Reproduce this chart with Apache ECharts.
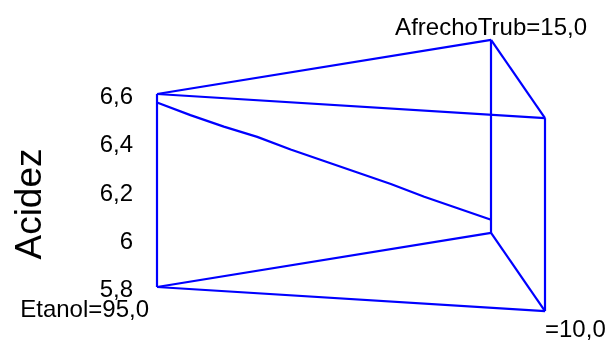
<!DOCTYPE html>
<html>
<head>
<meta charset="utf-8">
<script src="https://cdn.jsdelivr.net/npm/echarts@6/dist/echarts.min.js"></script>
<style>
  html, body { margin: 0; padding: 0; background: #fff; }
  #chart { width: 611px; height: 343px; }
</style>
</head>
<body>
<div id="chart"></div>
<script>
// Mixture components at the three corners of the simplex and their labels
const components = ['Etanol', 'AfrechoTrub', ''];
const componentLevels = ['95,0', '15,0', '10,0'];

// Response axis
const responseName = 'Acidez';
const acidezMin = 5.8;
const acidezMax = 6.6;
const acidezStep = 0.2;

// Trace of the response along the Etanol -> AfrechoTrub edge
const traceAfrecho = [0.0, 0.1, 0.2, 0.3, 0.4, 0.5, 0.6, 0.7, 0.8, 0.9, 1.0];
const traceAcidez  = [6.565, 6.49, 6.42, 6.355, 6.28, 6.21, 6.14, 6.07, 5.995, 5.925, 5.855];

// Oblique view of the prism: horizontal place of each corner (x axis units)
// and how far its floor is lifted (in response units).
const view = {
  x:    [0, 0.861, 1.0],
  lift: [0, 0.224, -0.10]
};

// Project a mixture (fractions of each component) and a response value
function project(frac, acid) {
  let x = 0, y = acid;
  for (let i = 0; i < 3; i++) {
    x += frac[i] * view.x[i];
    y += frac[i] * view.lift[i];
  }
  return [x, y];
}
const corner = i => [0, 1, 2].map(k => (k === i ? 1 : 0));

// Prism edges: floor and roof triangles plus the three uprights
const edges = [];
[acidezMin, acidezMax].forEach(level => {
  [[0, 1], [1, 2], [2, 0]].forEach(([a, b]) => {
    edges.push({ coords: [project(corner(a), level), project(corner(b), level)] });
  });
});
[0, 1, 2].forEach(i => {
  edges.push({ coords: [project(corner(i), acidezMin), project(corner(i), acidezMax)] });
});

// Trace points
const traceData = traceAfrecho.map((b, i) => project([1 - b, b, 0], traceAcidez[i]));

const font = 'Liberation Sans, Arial, sans-serif';
const blue = '#0000ff';

// Corner labels
const cornerLabels = [
  { value: project(corner(0), acidezMin),
    label: { position: 'bottom', align: 'right', distance: 11, offset: [-8, 0] } },
  { value: project(corner(1), acidezMax),
    label: { position: 'top', align: 'center', distance: 0 } },
  { value: project(corner(2), acidezMin),
    label: { position: 'bottom', align: 'left', distance: 7, offset: [0, 0] } }
].map((d, i) => {
  d.label.formatter = components[i] + '=' + componentLevels[i];
  return d;
});

const chart = echarts.init(document.getElementById('chart'), null, { renderer: 'canvas' });
chart.setOption({
  animation: false,
  backgroundColor: '#ffffff',
  grid: { left: 157, right: 66, top: 94, bottom: 56 },
  xAxis: {
    type: 'value', min: 0, max: 1, show: false
  },
  yAxis: {
    type: 'value', min: acidezMin, max: acidezMax, interval: acidezStep,
    axisLine: { show: false },
    axisTick: { show: false },
    splitLine: { show: false },
    axisLabel: {
      margin: 24,
      color: '#000',
      fontFamily: font,
      fontSize: 24,
      formatter: v => '{t|' + String(+v.toFixed(1)).replace('.', ',') + '}',
      rich: {
        t: { color: '#000', fontFamily: font, fontSize: 24, padding: [7, 0, 0, 0] }
      }
    }
  },
  graphic: [{
    type: 'text',
    x: 31, y: 204,
    rotation: Math.PI / 2,
    style: {
      text: responseName,
      fill: '#000',
      font: '37px ' + font,
      textAlign: 'center',
      textVerticalAlign: 'middle'
    }
  }],
  series: [
    {
      type: 'lines',
      coordinateSystem: 'cartesian2d',
      clip: false,
      silent: true,
      lineStyle: { color: blue, width: 2.2, opacity: 1 },
      data: edges
    },
    {
      type: 'line',
      clip: false,
      symbol: 'none',
      lineStyle: { color: blue, width: 2.2 },
      data: traceData
    },
    {
      type: 'scatter',
      clip: false,
      symbolSize: 0,
      itemStyle: { opacity: 1 },
      label: {
        show: true,
        color: '#000000',
        fontFamily: font,
        fontSize: 24
      },
      data: cornerLabels
    }
  ]
});
</script>
</body>
</html>
